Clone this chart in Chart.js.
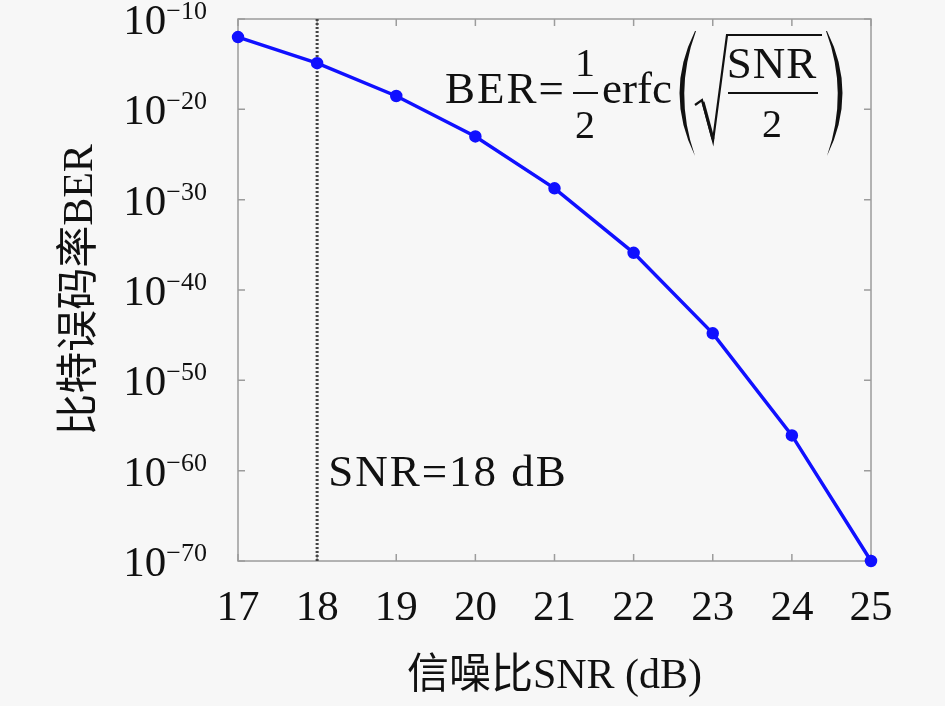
<!DOCTYPE html>
<html lang="zh">
<head>
    <meta charset="UTF-8">
    <title>BER vs SNR</title>
    <script src="https://cdn.jsdelivr.net/npm/chart.js"></script>
    <style>
        html, body { margin: 0; padding: 0; background: #f7f7f7; }
        canvas { display: block; }
    </style>
</head>
<body>
    <canvas id="berChart" width="945" height="706"></canvas>

    <script>
        // values
        const snrDb = [17, 18, 19, 20, 21, 22, 23, 24, 25];
        const berValues = [1e-12, 1.3e-15, 3e-19, 1e-23, 1.8e-29, 1.3e-36, 1.6e-45, 8e-57, 1e-70];
        const xTickValues = [17, 18, 19, 20, 21, 22, 23, 24, 25];
        const yTickValues = [1e-70, 1e-60, 1e-50, 1e-40, 1e-30, 1e-20, 1e-10];
        const markerSnr = 18;
        const markerLabel = 'SNR=18 dB';

        const serif = '"Liberation Serif", "Noto Sans CJK SC", serif';

        // box with inward ticks on all four sides, y labels as 10^n, formula and marker text
        const framePlugin = {
            id: 'frame',
            beforeDatasetsDraw(chart) {
                const { ctx, chartArea: a, scales } = chart;
                ctx.save();
                ctx.strokeStyle = '#9c9c9c';
                ctx.lineWidth = 1.5;
                ctx.strokeRect(a.left, a.top, a.right - a.left, a.bottom - a.top);
                const len = 7;
                ctx.beginPath();
                scales.x.ticks.forEach(t => {
                    const px = scales.x.getPixelForValue(t.value);
                    ctx.moveTo(px, a.bottom); ctx.lineTo(px, a.bottom - len);
                    ctx.moveTo(px, a.top); ctx.lineTo(px, a.top + len);
                });
                scales.y.ticks.forEach(t => {
                    const py = scales.y.getPixelForValue(t.value);
                    ctx.moveTo(a.left, py); ctx.lineTo(a.left + len, py);
                    ctx.moveTo(a.right, py); ctx.lineTo(a.right - len, py);
                });
                ctx.stroke();

                // y tick labels: base 10 with a raised exponent
                ctx.fillStyle = '#111';
                ctx.textBaseline = 'alphabetic';
                ctx.textAlign = 'right';
                const labelRight = a.left - 31;
                scales.y.ticks.forEach(t => {
                    const py = scales.y.getPixelForValue(t.value);
                    const exp = '\u2212' + Math.abs(Math.round(Math.log10(t.value)));
                    ctx.font = '26px ' + serif;
                    const w = ctx.measureText(exp).width;
                    ctx.fillText(exp, labelRight, py);
                    ctx.font = '43px ' + serif;
                    ctx.fillText('10', labelRight - w, py + 15);
                });
                ctx.restore();
            },
            afterDraw(chart) {
                const { ctx, scales } = chart;
                ctx.save();
                ctx.fillStyle = '#111';
                ctx.strokeStyle = '#111';
                ctx.textBaseline = 'alphabetic';

                // marker label next to the dotted line
                ctx.font = '45px ' + serif;
                ctx.letterSpacing = '2px';
                ctx.textAlign = 'left';
                ctx.fillText(markerLabel, scales.x.getPixelForValue(markerSnr) + 11, 486);

                // BER = 1/2 erfc( sqrt(SNR/2) )
                ctx.letterSpacing = '2px';
                ctx.fillText('BER=', 445, 103);
                ctx.letterSpacing = '0px';
                ctx.font = '40px ' + serif;
                ctx.textAlign = 'center';
                ctx.fillText('1', 585, 76);
                ctx.fillText('2', 585, 138);
                ctx.lineWidth = 2;
                ctx.beginPath();
                ctx.moveTo(573, 93); ctx.lineTo(598, 93);
                ctx.stroke();

                ctx.font = '45px ' + serif;
                ctx.textAlign = 'left';
                ctx.fillText('erfc', 602, 103);

                // big parentheses
                ctx.beginPath();
                ctx.moveTo(695, 31);
                ctx.quadraticCurveTo(664, 93, 695, 156);
                ctx.quadraticCurveTo(673, 93, 696, 31);
                ctx.fill();
                ctx.beginPath();
                ctx.moveTo(827, 31);
                ctx.quadraticCurveTo(858, 93, 827, 156);
                ctx.quadraticCurveTo(849, 93, 826, 31);
                ctx.fill();

                // radical sign
                ctx.lineWidth = 2.2;
                ctx.lineJoin = 'miter';
                ctx.beginPath();
                ctx.moveTo(695, 105);
                ctx.lineTo(702, 100);
                ctx.lineTo(713, 141);
                ctx.lineTo(727, 35);
                ctx.lineTo(822, 35);
                ctx.stroke();
                ctx.lineWidth = 3;
                ctx.beginPath();
                ctx.moveTo(703, 102);
                ctx.lineTo(713, 139);
                ctx.stroke();

                ctx.font = '45px ' + serif;
                ctx.letterSpacing = '1px';
                ctx.textAlign = 'center';
                ctx.fillText('SNR', 772, 78);
                ctx.letterSpacing = '0px';
                ctx.font = '40px ' + serif;
                ctx.fillText('2', 772, 137);
                ctx.lineWidth = 2;
                ctx.beginPath();
                ctx.moveTo(728, 93); ctx.lineTo(818, 93);
                ctx.stroke();
                ctx.restore();
            }
        };

        new Chart(document.getElementById('berChart'), {
            type: 'line',
            data: {
                datasets: [
                    {
                        label: 'BER',
                        data: snrDb.map((x, i) => ({ x: x, y: berValues[i] })),
                        borderColor: '#1010ff',
                        backgroundColor: '#1010ff',
                        borderWidth: 3.5,
                        pointRadius: 4.5,
                        pointHoverRadius: 4.5,
                        tension: 0,
                        clip: false,
                        order: 1
                    },
                    {
                        label: markerLabel,
                        data: [{ x: markerSnr, y: yTickValues[yTickValues.length - 1] },
                               { x: markerSnr, y: yTickValues[0] }],
                        borderColor: '#444',
                        borderWidth: 3,
                        borderDash: [2, 2],
                        pointRadius: 0,
                        order: 2
                    }
                ]
            },
            options: {
                responsive: false,
                animation: false,
                layout: { padding: { top: 19, right: 74, left: 0, bottom: 0 } },
                plugins: {
                    legend: { display: false },
                    tooltip: { enabled: false }
                },
                scales: {
                    x: {
                        type: 'linear',
                        min: xTickValues[0],
                        max: xTickValues[xTickValues.length - 1],
                        afterBuildTicks: (scale) => { scale.ticks = xTickValues.map(v => ({ value: v })); },
                        afterFit: (scale) => { scale.height = 145; scale.paddingLeft = 0; scale.paddingRight = 0; },
                        grid: { display: false, drawTicks: false },
                        border: { display: false },
                        ticks: {
                            padding: 22,
                            color: '#111',
                            font: { family: serif, size: 43 }
                        },
                        title: {
                            display: true,
                            text: '信噪比SNR (dB)',
                            color: '#111',
                            padding: { top: 0, bottom: 4 },
                            font: { family: serif, size: 42 }
                        }
                    },
                    y: {
                        type: 'logarithmic',
                        min: yTickValues[0],
                        max: yTickValues[yTickValues.length - 1],
                        afterBuildTicks: (scale) => { scale.ticks = yTickValues.map(v => ({ value: v })); },
                        afterFit: (scale) => { scale.width = 238; scale.paddingTop = 0; scale.paddingBottom = 0; },
                        grid: { display: false, drawTicks: false },
                        border: { display: false },
                        ticks: { display: false },
                        title: {
                            display: true,
                            text: '比特误码率BER',
                            color: '#111',
                            padding: { top: 56, bottom: 0 },
                            font: { family: serif, size: 42 }
                        }
                    }
                }
            },
            plugins: [framePlugin]
        });
    </script>
</body>
</html>
